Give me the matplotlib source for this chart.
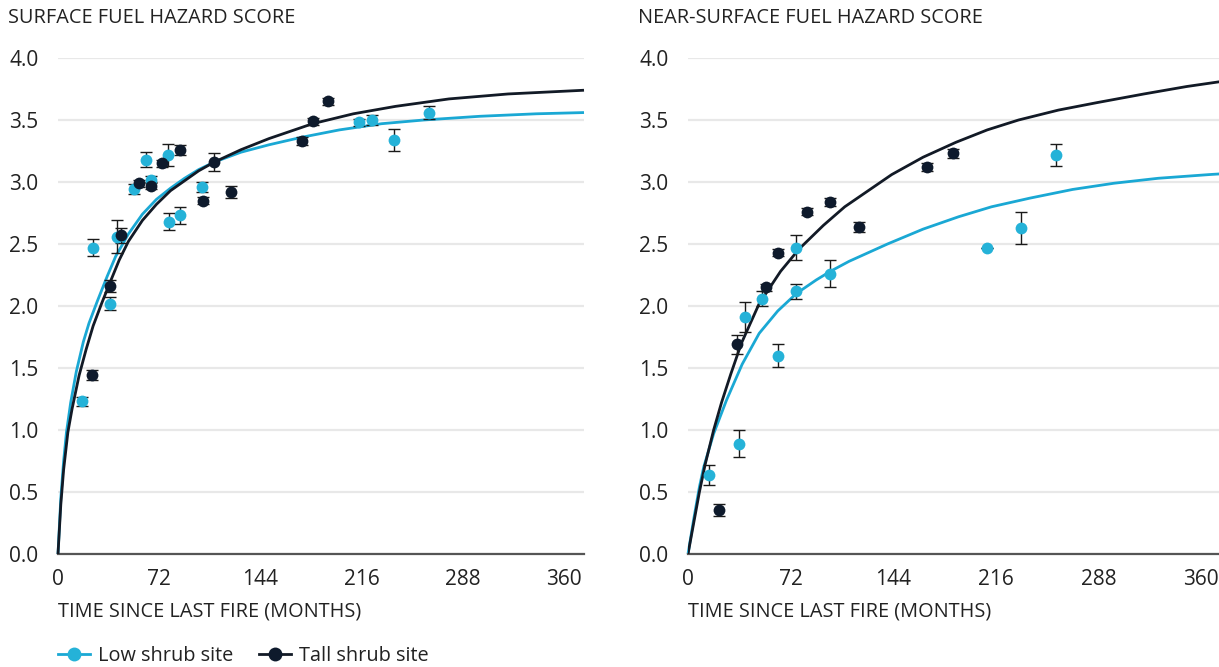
import matplotlib
matplotlib.use("Agg")
import matplotlib.pyplot as plt
from matplotlib.lines import Line2D

plt.rcParams['font.family'] = ['Open Sans', 'DejaVu Sans']

# ---------------- data ----------------
# Surface fuel hazard score
surf_low_t = [17, 25, 37, 42, 54, 62.5, 66, 78, 79, 87, 102.5, 214, 223, 239, 264]
surf_low_y = [1.23, 2.47, 2.02, 2.56, 2.94, 3.18, 3.02, 3.22, 2.68, 2.73, 2.96, 3.48, 3.50, 3.34, 3.56]
surf_low_e = [0.04, 0.07, 0.05, 0.13, 0.04, 0.06, 0.03, 0.09, 0.07, 0.065, 0.04, 0.03, 0.04, 0.09, 0.055]

surf_tall_t = [24.4, 37, 45, 57.5, 66, 74, 86.6, 103, 111, 123, 173.5, 181, 192]
surf_tall_y = [1.44, 2.16, 2.57, 2.99, 2.97, 3.15, 3.26, 2.85, 3.16, 2.92, 3.33, 3.49, 3.65]
surf_tall_e = [0.04, 0.05, 0.06, 0.03, 0.03, 0.03, 0.04, 0.03, 0.075, 0.05, 0.03, 0.03, 0.03]

# fitted curves
surf_low_curve_t = [0, 2, 4, 6, 9, 13, 18, 22, 28, 35, 41, 50, 60, 70, 80, 90, 100, 111, 130, 150, 173, 200, 230, 260, 300, 340, 374]
surf_low_curve_y = [0, 0.45, 0.75, 0.98, 1.22, 1.47, 1.71, 1.86, 2.04, 2.24, 2.40, 2.58, 2.74, 2.86, 2.95, 3.03, 3.10, 3.16, 3.24, 3.30, 3.36, 3.42, 3.47, 3.50, 3.53, 3.55, 3.56]
surf_tall_curve_t = [0, 2, 4, 7, 10, 15, 20, 25, 31, 37, 43.5, 50, 60, 70, 80, 90, 100, 111, 130, 150, 181, 210, 240, 278, 320, 374]
surf_tall_curve_y = [0, 0.40, 0.68, 0.98, 1.17, 1.44, 1.65, 1.84, 2.02, 2.19, 2.37, 2.52, 2.69, 2.82, 2.93, 3.01, 3.09, 3.16, 3.26, 3.35, 3.47, 3.55, 3.61, 3.67, 3.71, 3.74]

# Near-surface fuel hazard score
near_low_t = [15, 35.6, 40, 52, 63, 76, 76, 99.6, 210, 233.5, 258]
near_low_y = [0.64, 0.89, 1.91, 2.06, 1.60, 2.47, 2.12, 2.26, 2.47, 2.63, 3.22]
near_low_e = [0.08, 0.11, 0.12, 0.06, 0.09, 0.10, 0.06, 0.11, 0.0, 0.13, 0.09]

near_tall_t = [22, 34.4, 55, 63, 83.5, 100, 120, 168, 186]
near_tall_y = [0.355, 1.69, 2.15, 2.43, 2.76, 2.84, 2.64, 3.12, 3.23]
near_tall_e = [0.05, 0.08, 0.03, 0.03, 0.03, 0.03, 0.04, 0.03, 0.04]

near_low_curve_t = [0, 4, 8, 11, 18, 27, 38, 50, 63, 76, 90, 100, 113, 140, 165, 190, 213, 240, 270, 299, 330, 366, 380]
near_low_curve_y = [0, 0.28, 0.54, 0.70, 0.97, 1.24, 1.53, 1.78, 1.96, 2.10, 2.21, 2.28, 2.36, 2.50, 2.62, 2.72, 2.80, 2.87, 2.94, 2.99, 3.03, 3.06, 3.07]
near_tall_curve_t = [0, 4, 8, 12, 18, 23.5, 30, 37.5, 50, 65, 78, 95, 110, 143, 165, 188, 210, 232, 260, 287, 320, 350, 380]
near_tall_curve_y = [0, 0.25, 0.50, 0.72, 1.00, 1.22, 1.45, 1.70, 2.02, 2.28, 2.46, 2.65, 2.80, 3.06, 3.20, 3.32, 3.42, 3.50, 3.58, 3.64, 3.71, 3.77, 3.82]

xticks = [0, 72, 144, 216, 288, 360]
yticks = [0.0, 0.5, 1.0, 1.5, 2.0, 2.5, 3.0, 3.5, 4.0]
titles = ["SURFACE FUEL HAZARD SCORE", "NEAR-SURFACE FUEL HAZARD SCORE"]
xlabel = "TIME SINCE LAST FIRE (MONTHS)"
series_names = ["Low shrub site", "Tall shrub site"]

# ---------------- style ----------------
CYAN = "#25b2d8"
CYAN_LINE = "#1aa8d4"
DARK = "#0e1a2c"
DARK_LINE = "#121a26"
TEXT = "#222222"
GRID = "#e8e8e8"

W, H = 1219, 667
fig = plt.figure(figsize=(W / 100, H / 100), dpi=100)

def px_axes(x0, y_top, x1, y_bot):
    return fig.add_axes([x0 / W, 1 - y_bot / H, (x1 - x0) / W, (y_bot - y_top) / H])

ax1 = px_axes(58, 58, 584, 554)
ax2 = px_axes(688, 58, 1228, 554)

panels = [
    (ax1, surf_low_t, surf_low_y, surf_low_e, surf_tall_t, surf_tall_y, surf_tall_e,
     surf_low_curve_t, surf_low_curve_y, surf_tall_curve_t, surf_tall_curve_y),
    (ax2, near_low_t, near_low_y, near_low_e, near_tall_t, near_tall_y, near_tall_e,
     near_low_curve_t, near_low_curve_y, near_tall_curve_t, near_tall_curve_y),
]

for i, (ax, lt, ly, le, tt, ty, te, lct, lcy, tct, tcy) in enumerate(panels):
    ax.set_xlim(0, 374 if i == 0 else 379)
    ax.set_ylim(0, 4.0)
    ax.set_yticks(yticks)
    ax.set_yticklabels([f"{v:.1f}" for v in yticks])
    ax.set_xticks(xticks)
    ax.set_xticklabels([str(v) for v in xticks])
    ax.tick_params(axis='both', length=0, labelsize=15, colors=TEXT)
    ax.tick_params(axis='y', pad=14)
    ax.tick_params(axis='x', pad=11)
    ax.grid(axis='y', color=GRID, linewidth=1.6, zorder=0)
    ax.set_axisbelow(True)
    for s in ['top', 'right', 'left']:
        ax.spines[s].set_visible(False)
    ax.spines['bottom'].set_color('#555555')
    ax.spines['bottom'].set_linewidth(1.6)
    ax.patch.set_alpha(0)

    ax.plot(lct, lcy, color=CYAN_LINE, lw=2.0, zorder=2, clip_on=False, solid_capstyle='butt')
    ax.plot(tct, tcy, color=DARK_LINE, lw=2.0, zorder=3, clip_on=(i == 1), solid_capstyle='butt')

    ax.errorbar(lt, ly, yerr=le, fmt='none', ecolor='#1a1a1a', elinewidth=1.0,
                capsize=4, capthick=1.0, zorder=4)
    ax.errorbar(tt, ty, yerr=te, fmt='none', ecolor='#1a1a1a', elinewidth=1.0,
                capsize=4, capthick=1.0, zorder=4)
    ax.plot(lt, ly, 'o', color=CYAN, markersize=8.5, markeredgewidth=0, zorder=5)
    ax.plot(tt, ty, 'o', color=DARK, markersize=8.5, markeredgewidth=0, zorder=5)

fig.text(8 / W, 1 - 18 / H, titles[0], fontsize=14.3, color=TEXT, ha='left', va='center')
fig.text(638 / W, 1 - 18 / H, titles[1], fontsize=14.3, color=TEXT, ha='left', va='center')
fig.text(58 / W, 1 - 611 / H, xlabel, fontsize=14.3, color=TEXT, ha='left', va='center')
fig.text(688 / W, 1 - 611 / H, xlabel, fontsize=14.3, color=TEXT, ha='left', va='center')

handles = [
    Line2D([0], [0], color=CYAN_LINE, lw=2, marker='o', markersize=10, markerfacecolor=CYAN, markeredgewidth=0),
    Line2D([0], [0], color=DARK_LINE, lw=2, marker='o', markersize=10, markerfacecolor=DARK, markeredgewidth=0),
]
fig.legend(handles, series_names, loc='center left', bbox_to_anchor=(58 / W, 1 - 656 / H),
           ncol=2, frameon=False, fontsize=14.3, handlelength=1.6, columnspacing=1.3,
           handletextpad=0.4, labelcolor=TEXT, borderaxespad=0, borderpad=0)

fig.savefig("out.png", dpi=100)
